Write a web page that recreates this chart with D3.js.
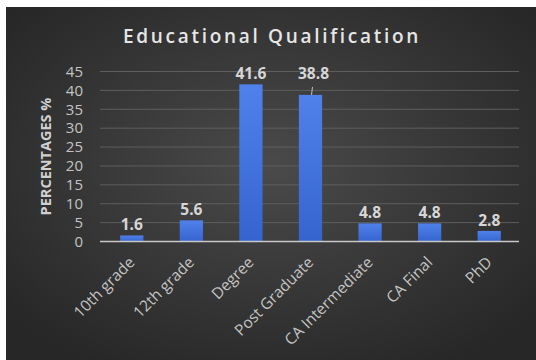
<!DOCTYPE html>
<html>
<head>
<meta charset="utf-8">
<script src="https://cdn.jsdelivr.net/npm/d3@7"></script>
<style>
  html, body { margin: 0; padding: 0; background: #ffffff; }
  svg { display: block; }
</style>
</head>
<body>
<svg id="chart" width="536" height="360"></svg>
<script>
// Share of respondents by highest educational qualification
const categories = ["10th grade", "12th grade", "Degree", "Post Graduate", "CA Intermediate", "CA Final", "PhD"];
const percentages = [1.6, 5.6, 41.6, 38.8, 4.8, 4.8, 2.8];
const yTicks = [0, 5, 10, 15, 20, 25, 30, 35, 40, 45];

const W = 536, H = 360;
const svg = d3.select("#chart");
const defs = svg.append("defs");

// Dark panel with a soft centre glow
const bg = defs.append("radialGradient").attr("id", "bgGlow")
  .attr("cx", "50%").attr("cy", "45%").attr("r", "65%");
bg.append("stop").attr("offset", "0%").attr("stop-color", "#4a4a4a");
bg.append("stop").attr("offset", "100%").attr("stop-color", "#272727");

const barGrad = defs.append("linearGradient").attr("id", "barFill")
  .attr("x1", 0).attr("y1", 0).attr("x2", 0).attr("y2", 1);
barGrad.append("stop").attr("offset", "0%").attr("stop-color", "#5081ea");
barGrad.append("stop").attr("offset", "100%").attr("stop-color", "#3564cf");

svg.append("rect").attr("x", 6).attr("y", 7).attr("width", W - 6).attr("height", H - 7)
  .attr("fill", "url(#bgGlow)");

const plot = { left: 102, right: 519, top: 71.5, bottom: 241.5 };

const x = d3.scaleBand().domain(categories).range([plot.left, plot.right])
  .paddingInner(0.61).paddingOuter(0.305);
const y = d3.scaleLinear().domain([0, 45]).range([plot.bottom, plot.top]);

// Horizontal gridlines
svg.append("g").selectAll("line").data(yTicks.filter(d => d > 0)).join("line")
  .attr("x1", 100).attr("x2", plot.right)
  .attr("y1", d => y(d)).attr("y2", d => y(d))
  .attr("stroke", "#5e5e5e").attr("stroke-width", 1);

// Y axis tick labels
const yAxis = d3.axisLeft(y).tickValues(yTicks).tickSize(0).tickPadding(0);
const gy = svg.append("g").attr("transform", "translate(83,0)").call(yAxis);
gy.select(".domain").remove();
gy.selectAll("text")
  .attr("fill", "#c4c4c4")
  .style("font-family", "'Open Sans', sans-serif")
  .style("font-size", "15px");

// Bars
svg.append("g").selectAll("rect").data(categories).join("rect")
  .attr("x", d => x(d))
  .attr("width", x.bandwidth())
  .attr("y", (d, i) => y(percentages[i]))
  .attr("height", (d, i) => plot.bottom - y(percentages[i]))
  .attr("fill", "url(#barFill)");

// Baseline
svg.append("line").attr("x1", 100).attr("x2", plot.right)
  .attr("y1", plot.bottom).attr("y2", plot.bottom)
  .attr("stroke", "#c8c8c8").attr("stroke-width", 1.3);

// Value labels; the Post Graduate label sits higher with a short leader line
const raised = "Post Graduate";
const labels = svg.append("g");
categories.forEach((c, i) => {
  const cx = x(c) + x.bandwidth() / 2;
  const top = y(percentages[i]);
  const lift = c === raised ? 16 : 5;
  labels.append("text")
    .attr("x", cx + (c === raised ? 3 : 0))
    .attr("y", top - lift)
    .attr("text-anchor", "middle")
    .attr("fill", "#d6d6d6")
    .style("font-family", "'Open Sans', sans-serif")
    .style("font-weight", "700")
    .style("font-size", "15.5px")
    .text(percentages[i]);
  if (c === raised) {
    labels.append("line")
      .attr("x1", cx + 2).attr("y1", top - 8)
      .attr("x2", cx + 1).attr("y2", top)
      .attr("stroke", "#bfbfbf").attr("stroke-width", 1);
  }
});

// Category labels, rotated
const xAxis = d3.axisBottom(x).tickSize(0).tickPadding(0);
const gx = svg.append("g").attr("transform", `translate(0,${plot.bottom})`).call(xAxis);
gx.select(".domain").remove();
gx.selectAll("text")
  .attr("fill", "#c4c4c4")
  .style("font-family", "'Open Sans', sans-serif")
  .style("font-size", "15.5px")
  .attr("text-anchor", "end")
  .attr("dy", "0.35em")
  .attr("transform", "translate(0,18) rotate(-45)");

// Axis title
svg.append("text")
  .attr("transform", `translate(51,${(plot.top + plot.bottom) / 2}) rotate(-90)`)
  .attr("text-anchor", "middle")
  .attr("fill", "#d0d0d0")
  .style("font-family", "'Open Sans', sans-serif")
  .style("font-weight", "700")
  .style("font-size", "14.5px")
  .text("PERCENTAGES %");

// Chart title
svg.append("text")
  .attr("x", 272).attr("y", 42.5)
  .attr("text-anchor", "middle")
  .attr("fill", "#e6e6e6")
  .style("font-family", "'Open Sans', sans-serif")
  .style("font-weight", "600")
  .style("font-size", "19px")
  .style("letter-spacing", "2.7px")
  .text("Educational Qualification");
</script>
</body>
</html>
